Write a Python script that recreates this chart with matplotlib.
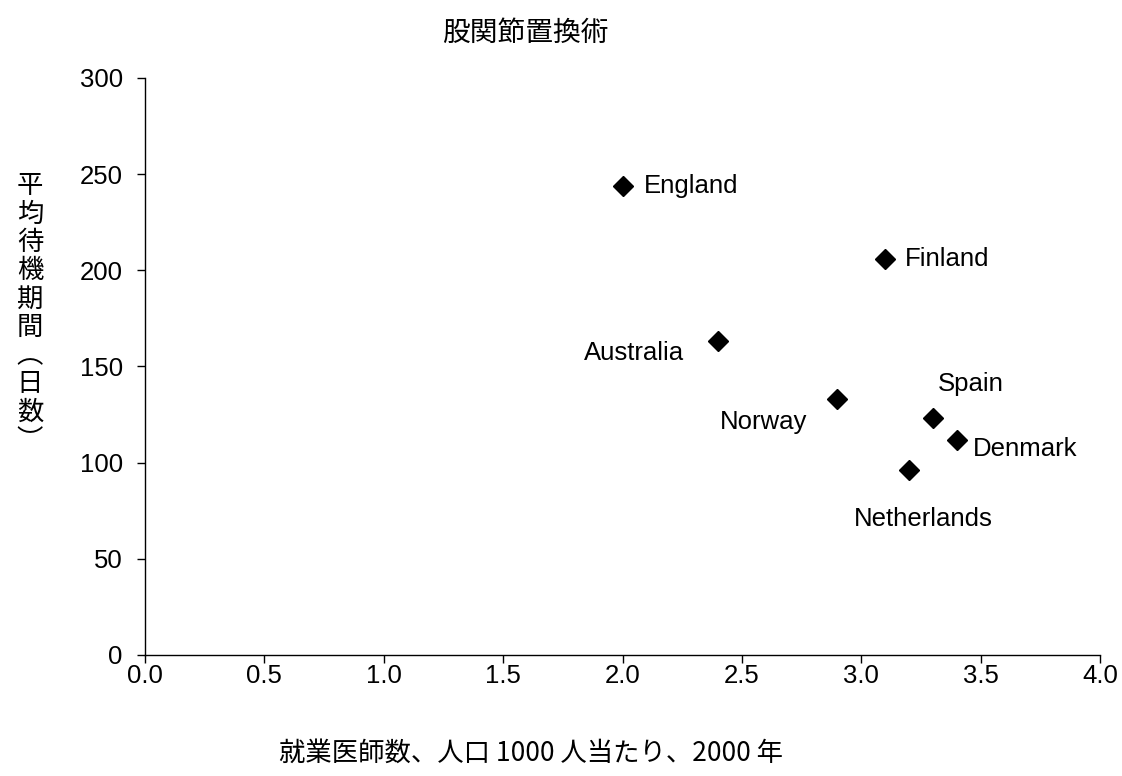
import matplotlib.pyplot as plt

# Hip replacement: waiting time vs practising physicians
countries = ['England', 'Finland', 'Australia', 'Norway', 'Spain', 'Denmark', 'Netherlands']
doctors = [2.0, 3.1, 2.4, 2.9, 3.3, 3.4, 3.2]
wait_days = [244, 206, 163, 133, 123, 112, 96]

x_ticks = [0.0, 0.5, 1.0, 1.5, 2.0, 2.5, 3.0, 3.5, 4.0]
y_ticks = [0, 50, 100, 150, 200, 250, 300]

# label placement (pixel offsets from each point, alignment)
label_pos = {
    'England': (21, 0, 'left'),
    'Finland': (20, 0, 'left'),
    'Australia': (-34, -12, 'right'),
    'Norway': (-30, -23, 'right'),
    'Spain': (5, 34, 'left'),
    'Denmark': (16, -9, 'left'),
    'Netherlands': (14, -49, 'center'),
}

LATIN = 'Liberation Sans'
CJK = ['Noto Sans CJK JP', 'DejaVu Sans']


def main():
    fig = plt.figure(figsize=(11.22, 7.76), dpi=100)
    ax = fig.add_axes([145 / 1122, 1 - 655 / 776, 955 / 1122, 577 / 776])

    ax.plot(doctors, wait_days, linestyle='none', marker='D', ms=10,
            color='black', clip_on=False)

    for name, x, y in zip(countries, doctors, wait_days):
        dx, dy, ha = label_pos[name]
        ax.annotate(name, (x, y), xytext=(dx, dy), textcoords='offset pixels',
                    ha=ha, va='center', fontsize=18.5, family=LATIN)

    ax.set_xlim(0, 4)
    ax.set_ylim(0, 300)
    ax.set_xticks(x_ticks)
    ax.set_xticklabels([f'{v:.1f}' for v in x_ticks])
    ax.set_yticks(y_ticks)
    ax.set_yticklabels([str(v) for v in y_ticks])
    for lab in ax.get_xticklabels() + ax.get_yticklabels():
        lab.set_family(LATIN)
        lab.set_fontsize(18.5)
    ax.tick_params(direction='out', length=6, width=1, color='black')
    ax.tick_params(axis='x', pad=0.5)
    ax.tick_params(axis='y', pad=10)

    for side in ('top', 'right'):
        ax.spines[side].set_visible(False)
    for side in ('left', 'bottom'):
        ax.spines[side].set_linewidth(1)

    fig.text(525 / 1122, 1 - 33 / 776, '股関節置換術', ha='center', va='center',
             fontsize=20, family=CJK)

    # vertical y-axis caption, one character per line
    ylab = '平均待機期間︵日数︶'
    fig.text(30 / 1122, 1 - 313 / 776, '\n'.join(ylab), ha='center', va='center',
             fontsize=19, family=CJK, linespacing=1.06)

    fig.text(531 / 1122, 1 - 753 / 776, '就業医師数、人口 1000 人当たり、2000 年',
             ha='center', va='center', fontsize=19, family=CJK)

    fig.savefig('out.png', dpi=100)


if __name__ == '__main__':
    main()
